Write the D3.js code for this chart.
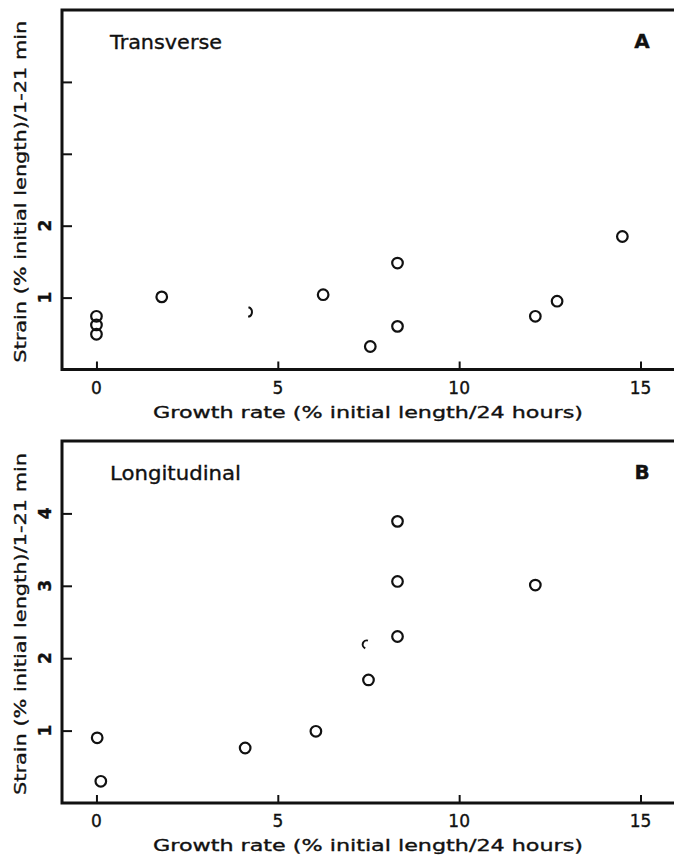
<!DOCTYPE html>
<html>
<head>
<meta charset="utf-8">
<script src="https://cdn.jsdelivr.net/npm/d3@7"></script>
<style>
  body { margin: 0; background: #fff; }
  text { font-family: "DejaVu Sans", sans-serif; fill: #111; stroke: #111; stroke-width: 0.35px; }
</style>
</head>
<body>
<div id="chart"></div>
<script>
// growth rate vs strain, two panels (transverse / longitudinal)

const xTicks = [0, 5, 10, 15];
const yTicks = [1, 2, 3, 4];

// panel A - transverse
const transGrowth = [0, 0, 0, 1.8, 6.25, 8.3, 8.3, 7.55, 12.1, 12.7, 14.5];
const transStrain = [0.74, 0.62, 0.49, 1.01, 1.04, 1.48, 0.6, 0.32, 0.74, 0.95, 1.85];
// the half-printed circles
const transFaintGrowth = [4.15];
const transFaintStrain = [0.8];
const transYLabels = ["1", "2", "", ""];

// panel B - longitudinal
const longGrowth = [0.02, 0.12, 4.1, 6.05, 8.3, 8.3, 8.3, 7.5, 12.1];
const longStrain = [0.9, 0.3, 0.76, 0.99, 3.89, 3.06, 2.3, 1.7, 3.01];
const longFaintGrowth = [7.45];
const longFaintStrain = [2.19];
const longYLabels = ["1", "2", "3", "4"];

const width = 674, height = 859;

const svg = d3.select("#chart")
    .append("svg")
    .attr("width", width)
    .attr("height", height)

const x = d3.scaleLinear()
    .domain([-0.95, 16.05])
    .range([62, 62 + 17 * 36.27])

function drawPanel(opts) {
    const y = d3.scaleLinear()
        .domain([0, 5])
        .range([opts.bottom, opts.top])

    const g = svg.append("g")

    // x axis, ticks point up into the plot
    const xAxis = g.append("g")
        .attr("transform", "translate(0," + opts.bottom + ")")
        .call(d3.axisBottom(x).tickValues(xTicks).tickSize(-8).tickFormat(""))
    xAxis.select(".domain").remove()
    xAxis.selectAll("line").attr("stroke", "#111").attr("stroke-width", 2)

    // y axis, ticks point right
    const yAxis = g.append("g")
        .attr("transform", "translate(" + x(-0.95) + ",0)")
        .call(d3.axisLeft(y).tickValues(yTicks).tickSize(-10).tickFormat(""))
    yAxis.select(".domain").remove()
    yAxis.selectAll("line").attr("stroke", "#111").attr("stroke-width", 2)

    // frame: left, top, bottom (no right side)
    const left = x(-0.95)
    g.append("path")
        .attr("d", "M" + width + "," + y(5) + "H" + left + "V" + y(0) + "H" + width)
        .attr("fill", "none")
        .attr("stroke", "#111")
        .attr("stroke-width", 3)

    // tick labels
    g.selectAll(".xl")
        .data(xTicks)
        .join("text")
        .attr("x", d => x(d))
        .attr("y", opts.bottom + 24)
        .attr("text-anchor", "middle")
        .style("font-size", "17px")
        .text(d => d)

    g.selectAll(".yl")
        .data(yTicks)
        .join("text")
        .attr("transform", d => "translate(51," + y(d) + ") rotate(-90)")
        .attr("text-anchor", "middle")
        .style("font-size", "17px")
        .style("font-weight", "bold")
        .text((d, i) => opts.yLabels[i])

    // axis titles
    g.append("text")
        .attr("x", 368)
        .attr("y", opts.bottom + 48)
        .attr("text-anchor", "middle")
        .attr("textLength", 430)
        .attr("lengthAdjust", "spacingAndGlyphs")
        .style("font-size", "16px")
        .text("Growth rate (% initial length/24 hours)")

    g.append("text")
        .attr("transform", "translate(26," + ((opts.top + opts.bottom) / 2 + 2) + ") rotate(-90)")
        .attr("text-anchor", "middle")
        .attr("textLength", 342)
        .attr("lengthAdjust", "spacingAndGlyphs")
        .style("font-size", "16px")
        .text("Strain (% initial length)/1-21 min")

    // panel names
    g.append("text")
        .attr("x", 110)
        .attr("y", opts.top + 39)
        .attr("textLength", opts.nameWidth)
        .attr("lengthAdjust", "spacingAndGlyphs")
        .style("font-size", "20px")
        .text(opts.name)

    g.append("text")
        .attr("x", 642)
        .attr("y", opts.top + 38)
        .attr("text-anchor", "middle")
        .style("font-size", "20px")
        .style("font-weight", "bold")
        .text(opts.letter)

    // points
    const pts = opts.gx.map((d, i) => ({ gx: d, s: opts.sy[i] }))
    g.selectAll("circle")
        .data(pts)
        .join("circle")
        .attr("cx", d => x(d.gx))
        .attr("cy", d => y(d.s))
        .attr("r", 5.3)
        .attr("fill", "none")
        .attr("stroke", "#111")
        .attr("stroke-width", 2.2)

    // partly printed circles
    const faint = opts.fx.map((d, i) => ({ gx: d, s: opts.fy[i] }))
    const arc = d3.arc()
        .innerRadius(opts.faintR - 1)
        .outerRadius(opts.faintR + 1)
        .startAngle(opts.faintStart)
        .endAngle(opts.faintEnd)
    g.selectAll(".faint")
        .data(faint)
        .join("path")
        .attr("transform", d => "translate(" + x(d.gx) + "," + y(d.s) + ")")
        .attr("d", arc)
        .attr("fill", "#111")
}

drawPanel({
    top: 10, bottom: 369.5,
    gx: transGrowth, sy: transStrain,
    fx: transFaintGrowth, fy: transFaintStrain,
    faintR: 5, faintStart: 0.3, faintEnd: 2.9,
    yLabels: transYLabels,
    name: "Transverse", nameWidth: 112, letter: "A"
})

drawPanel({
    top: 441, bottom: 803,
    gx: longGrowth, sy: longStrain,
    fx: longFaintGrowth, fy: longFaintStrain,
    faintR: 4, faintStart: 3.5, faintEnd: 6.6,
    yLabels: longYLabels,
    name: "Longitudinal", nameWidth: 131, letter: "B"
})
</script>
</body>
</html>
